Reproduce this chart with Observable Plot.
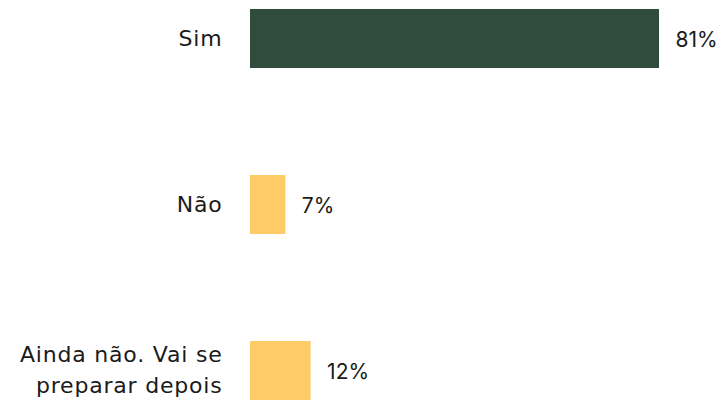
<!DOCTYPE html>
<html>
<head>
<meta charset="utf-8">
<script src="https://cdn.jsdelivr.net/npm/d3@7"></script>
<script src="https://cdn.jsdelivr.net/npm/@observablehq/plot@0.6"></script>
<style>
  html, body { margin: 0; padding: 0; background: #fff; }
  #chart svg { display: block; }
  #chart .ylab text { letter-spacing: 0.8px; }
</style>
</head>
<body>
<div id="chart"></div>
<script>
const categories = ["Sim", "Não", "Ainda não. Vai se\npreparar depois"];
const values = [81, 7, 12];
const colors = ["#2f4c3d", "#ffcb66", "#ffcb66"];

const data = categories.map((c, i) => ({category: c, value: values[i], color: colors[i]}));

const chart = Plot.plot({
  width: 720,
  height: 403,
  marginLeft: 250,
  marginRight: 61,
  marginTop: 9,
  marginBottom: 3,
  style: {fontFamily: "Inter, 'Noto Sans', sans-serif", fontSize: "20px", color: "#1a1a1a", background: "#fff"},
  x: {domain: [0, 81], axis: null},
  y: {domain: categories, paddingInner: 0.645, paddingOuter: 0, label: null},
  marks: [
    Plot.barX(data, {y: "category", x: "value", fill: "color"}),
    Plot.text(data, {y: "category", x: "value", text: d => d.value + "%", textAnchor: "start", dx: 16, dy: 1, fontSize: 21, fill: "#1a1a1a"}),
    Plot.axisY({tickSize: 0, tickPadding: 28, dy: -3, fontSize: 22, fontFamily: "'DejaVu Sans', sans-serif", lineHeight: 1.4, label: null, fill: "#1a1a1a", className: "ylab"})
  ]
});
document.getElementById("chart").appendChild(chart);
</script>
</body>
</html>
